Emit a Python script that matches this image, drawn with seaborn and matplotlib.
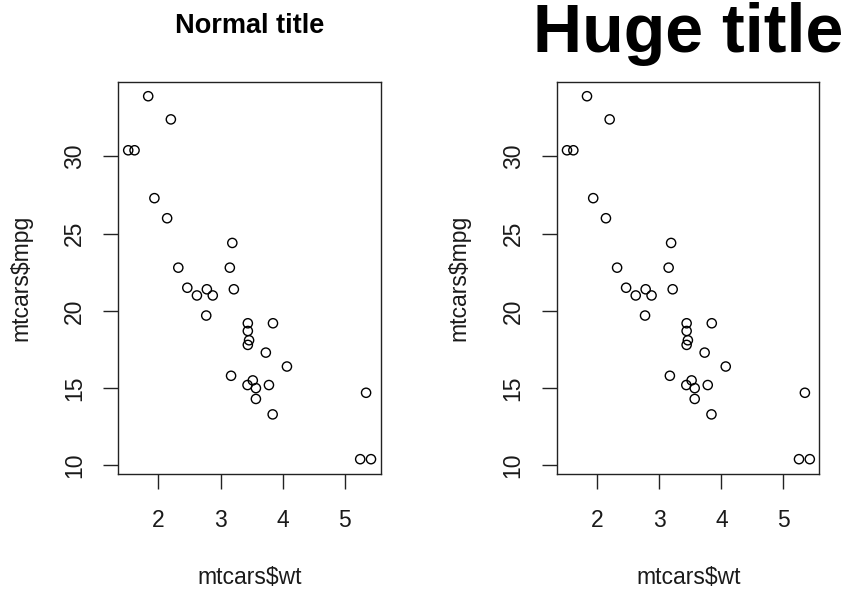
import matplotlib
matplotlib.use("Agg")
import matplotlib.pyplot as plt
import seaborn as sns
import pandas as pd

wt = [2.620, 2.875, 2.320, 3.215, 3.440, 3.460, 3.570, 3.190, 3.150, 3.440, 3.440,
      4.070, 3.730, 3.780, 5.250, 5.424, 5.345, 2.200, 1.615, 1.835, 2.465, 3.520,
      3.435, 3.840, 3.845, 1.935, 2.140, 1.513, 3.170, 2.770, 3.570, 2.780]
mpg = [21.0, 21.0, 22.8, 21.4, 18.7, 18.1, 14.3, 24.4, 22.8, 19.2, 17.8,
       16.4, 17.3, 15.2, 10.4, 10.4, 14.7, 32.4, 30.4, 33.9, 21.5, 15.5,
       15.2, 13.3, 19.2, 27.3, 26.0, 30.4, 15.8, 19.7, 15.0, 21.4]
x_ticks = [2, 3, 4, 5]
y_ticks = [10, 15, 20, 25, 30]
titles = ["Normal title", "Huge title"]
title_sizes = [19.5, 49]
x_label = "mtcars$wt"
y_label = "mtcars$mpg"

df = pd.DataFrame({"wt": wt, "mpg": mpg})

sns.set_theme(style="white")
plt.rcParams["font.family"] = ["Liberation Sans", "DejaVu Sans"]

W, H = 854, 590
fig = plt.figure(figsize=(W / 100, H / 100), dpi=100)

lefts = [118.5, 557.3]
right_w = 262.2
top_px, bot_px = 81.7, 473.7

xr = max(wt) - min(wt)
yr = max(mpg) - min(mpg)
xlim = (min(wt) - 0.04 * xr, max(wt) + 0.04 * xr)
ylim = (min(mpg) - 0.04 * yr, max(mpg) + 0.04 * yr)

title_base = [33, 52]

for i, lp in enumerate(lefts):
    ax = fig.add_axes([lp / W, 1 - bot_px / H, right_w / W, (bot_px - top_px) / H])
    sns.scatterplot(data=df, x="wt", y="mpg", ax=ax, marker="o", s=44,
                    facecolor="none", edgecolor="black", linewidth=1.0)
    ax.set_xlim(*xlim)
    ax.set_ylim(*ylim)
    ax.set_xticks(x_ticks)
    ax.set_yticks(y_ticks)
    ax.set_xticklabels([str(t) for t in x_ticks])
    ax.set_yticklabels([str(t) for t in y_ticks], rotation=90, va="center")
    ax.set_xlabel("")
    ax.set_ylabel("")
    ax.tick_params(axis="both", direction="out", length=10.5, width=1.0,
                   color="#222222", labelsize=16.5, labelcolor="#1a1a1a",
                   bottom=True, left=True)
    ax.tick_params(axis="x", pad=15)
    ax.tick_params(axis="y", pad=13)
    for sp in ax.spines.values():
        sp.set_color("#222222")
        sp.set_linewidth(1.0)
    ax.grid(False)
    cx = (lp + right_w / 2) / W
    fig.text(cx, 1 - title_base[i] / H, titles[i], ha="center", va="baseline",
             fontsize=title_sizes[i], fontweight="bold", color="black")
    fig.text(cx, 1 - 578 / H, x_label, ha="center", va="center",
             fontsize=16.5, color="#1a1a1a")
    fig.text((lp - 98) / W, 1 - (bot_px + top_px) / 2 / H, y_label, ha="center",
             va="center", rotation=90, fontsize=16.5, color="#1a1a1a")

fig.savefig("out.png", dpi=100, facecolor="white")
